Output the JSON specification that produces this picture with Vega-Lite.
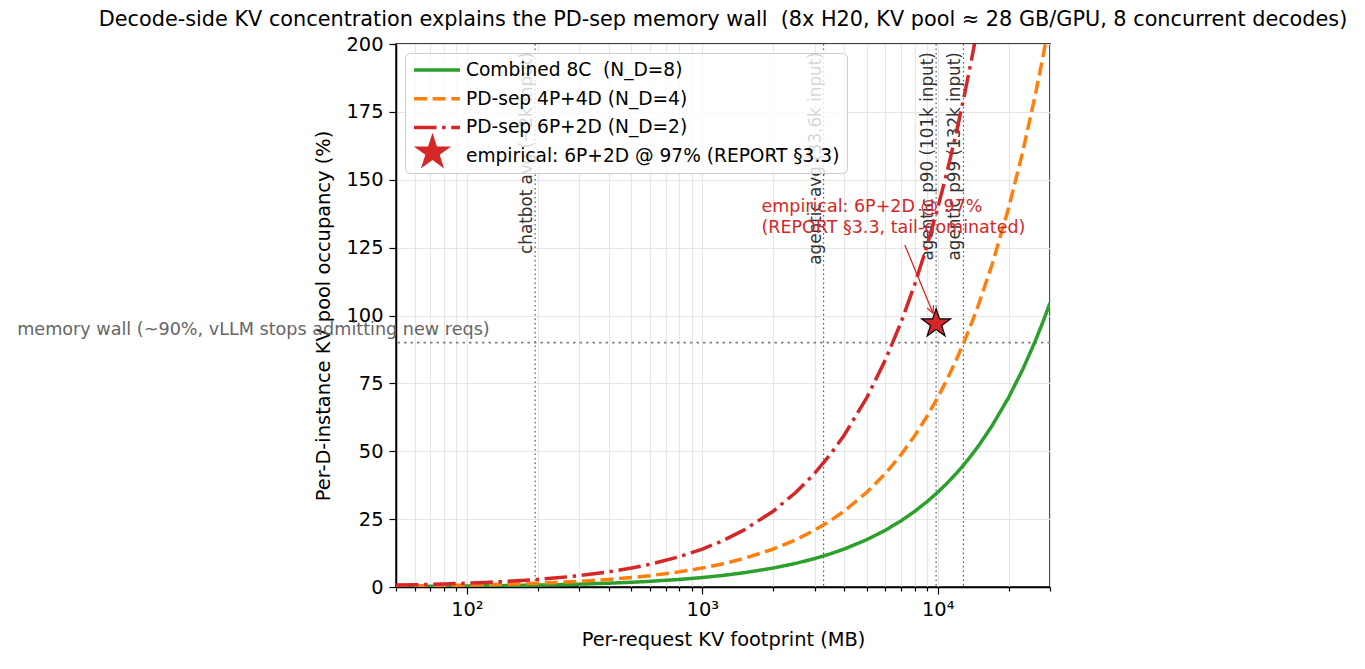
{
  "$schema": "https://vega.github.io/schema/vega-lite/v6.json",
  "width": 654,
  "height": 543,
  "autosize": {"type": "none"},
  "padding": {"left": 396, "top": 44, "right": 315, "bottom": 82},
  "background": "white",
  "title": {
    "text": "Decode-side KV concentration explains the PD-sep memory wall\u00a0 (8x H20, KV pool ≈ 28 GB/GPU, 8 concurrent decodes)",
    "anchor": "middle", "frame": "group", "fontSize": 20.8, "fontWeight": "normal",
    "color": "black", "offset": 3, "font": "DejaVu Sans"
  },
  "config": {
    "font": "DejaVu Sans",
    "view": {"stroke": "black", "strokeWidth": 1.5},
    "axis": {
      "labelFont": "DejaVu Sans", "titleFont": "DejaVu Sans",
      "labelFontSize": 19.4, "titleFontSize": 19.4, "titleFontWeight": "normal",
      "labelColor": "black", "titleColor": "black",
      "domainColor": "black", "domainWidth": 1.5, "tickColor": "black", "tickWidth": 1.2,
      "gridColor": "#e6e6e6", "gridWidth": 1.2, "labelPadding": 6
    }
  },
  "datasets": {
    "curves": [
      {"s":"c","x":50,"y":0.174},{"s":"c","x":60,"y":0.209},{"s":"c","x":70,"y":0.244},{"s":"c","x":80,"y":0.279},{"s":"c","x":100,"y":0.349},{"s":"c","x":120,"y":0.419},{"s":"c","x":150,"y":0.523},{"s":"c","x":200,"y":0.698},{"s":"c","x":250,"y":0.872},{"s":"c","x":300,"y":1.046},{"s":"c","x":400,"y":1.395},{"s":"c","x":500,"y":1.744},{"s":"c","x":600,"y":2.093},{"s":"c","x":800,"y":2.790},{"s":"c","x":1000,"y":3.488},{"s":"c","x":1200,"y":4.185},{"s":"c","x":1500,"y":5.232},{"s":"c","x":2000,"y":6.975},{"s":"c","x":2500,"y":8.719},{"s":"c","x":3000,"y":10.463},{"s":"c","x":3500,"y":12.207},{"s":"c","x":4000,"y":13.951},{"s":"c","x":5000,"y":17.439},{"s":"c","x":6000,"y":20.926},{"s":"c","x":7000,"y":24.414},{"s":"c","x":8000,"y":27.902},{"s":"c","x":9000,"y":31.390},{"s":"c","x":10000,"y":34.877},{"s":"c","x":11000,"y":38.365},{"s":"c","x":12000,"y":41.853},{"s":"c","x":13000,"y":45.340},{"s":"c","x":14000,"y":48.828},{"s":"c","x":15000,"y":52.316},{"s":"c","x":17000,"y":59.291},{"s":"c","x":20000,"y":69.754},{"s":"c","x":23000,"y":80.218},{"s":"c","x":26000,"y":90.681},{"s":"c","x":28000,"y":97.656},{"s":"c","x":30000,"y":104.63},
      {"s":"o","x":50,"y":0.349},{"s":"o","x":60,"y":0.419},{"s":"o","x":70,"y":0.488},{"s":"o","x":80,"y":0.558},{"s":"o","x":100,"y":0.698},{"s":"o","x":120,"y":0.837},{"s":"o","x":150,"y":1.046},{"s":"o","x":200,"y":1.395},{"s":"o","x":250,"y":1.744},{"s":"o","x":300,"y":2.093},{"s":"o","x":400,"y":2.790},{"s":"o","x":500,"y":3.488},{"s":"o","x":600,"y":4.185},{"s":"o","x":800,"y":5.580},{"s":"o","x":1000,"y":6.975},{"s":"o","x":1200,"y":8.371},{"s":"o","x":1500,"y":10.463},{"s":"o","x":2000,"y":13.951},{"s":"o","x":2500,"y":17.439},{"s":"o","x":3000,"y":20.926},{"s":"o","x":3500,"y":24.414},{"s":"o","x":4000,"y":27.902},{"s":"o","x":5000,"y":34.877},{"s":"o","x":6000,"y":41.853},{"s":"o","x":7000,"y":48.828},{"s":"o","x":8000,"y":55.804},{"s":"o","x":9000,"y":62.779},{"s":"o","x":10000,"y":69.754},{"s":"o","x":11000,"y":76.730},{"s":"o","x":12000,"y":83.705},{"s":"o","x":13000,"y":90.681},{"s":"o","x":14000,"y":97.656},{"s":"o","x":15000,"y":104.63},{"s":"o","x":17000,"y":118.58},{"s":"o","x":20000,"y":139.51},{"s":"o","x":23000,"y":160.44},{"s":"o","x":26000,"y":181.36},{"s":"o","x":28000,"y":195.31},{"s":"o","x":30000,"y":209.26},
      {"s":"r","x":50,"y":0.698},{"s":"r","x":60,"y":0.837},{"s":"r","x":70,"y":0.977},{"s":"r","x":80,"y":1.116},{"s":"r","x":100,"y":1.395},{"s":"r","x":120,"y":1.674},{"s":"r","x":150,"y":2.093},{"s":"r","x":200,"y":2.790},{"s":"r","x":250,"y":3.488},{"s":"r","x":300,"y":4.185},{"s":"r","x":400,"y":5.580},{"s":"r","x":500,"y":6.975},{"s":"r","x":600,"y":8.371},{"s":"r","x":800,"y":11.161},{"s":"r","x":1000,"y":13.951},{"s":"r","x":1200,"y":16.741},{"s":"r","x":1500,"y":20.926},{"s":"r","x":2000,"y":27.902},{"s":"r","x":2500,"y":34.877},{"s":"r","x":3000,"y":41.853},{"s":"r","x":3500,"y":48.828},{"s":"r","x":4000,"y":55.804},{"s":"r","x":5000,"y":69.754},{"s":"r","x":6000,"y":83.705},{"s":"r","x":7000,"y":97.656},{"s":"r","x":8000,"y":111.61},{"s":"r","x":9000,"y":125.56},{"s":"r","x":10000,"y":139.51},{"s":"r","x":11000,"y":153.46},{"s":"r","x":12000,"y":167.41},{"s":"r","x":13000,"y":181.36},{"s":"r","x":14000,"y":195.31},{"s":"r","x":15000,"y":209.26}
    ],
    "vlines": [
      {"x": 195, "label": "chatbot avg (~2k input)"},
      {"x": 3276, "label": "agentic avg (33.6k input)"},
      {"x": 9848, "label": "agentic p90 (101k input)"},
      {"x": 12870, "label": "agentic p99 (132k input)"}
    ]
  },
  "layer": [
    {
      "data": {"name": "vlines"},
      "mark": {"type": "rule", "color": "#555555", "strokeDash": [1.6, 2.9], "strokeWidth": 1.2},
      "encoding": {
        "x": {"field": "x", "type": "quantitative", "scale": {"type": "log", "domain": [50, 30000], "nice": false},
          "axis": {"title": "Per-request KV footprint (MB)", "values": [50,60,70,80,90,100,200,300,400,500,600,700,800,900,1000,2000,3000,4000,5000,6000,7000,8000,9000,10000,20000,30000], "labelExpr": "datum.value == 100 ? '10²' : datum.value == 1000 ? '10³' : datum.value == 10000 ? '10⁴' : ''", "labelOverlap": false, "labelFlush": false, "tickSize": {"condition": {"test": "datum.value == 100 || datum.value == 1000 || datum.value == 10000", "value": 7}, "value": 4}, "grid": true, "titlePadding": 12}}
      }
    },
    {
      "data": {"values": [{"y": 90}]},
      "mark": {"type": "rule", "color": "#808080", "strokeDash": [2.5, 4], "strokeWidth": 1.8},
      "encoding": {
        "y": {"field": "y", "type": "quantitative", "scale": {"domain": [0, 200], "nice": false},
          "axis": {"title": "Per-D-instance KV pool occupancy (%)", "values": [0,25,50,75,100,125,150,175,200], "tickSize": 7, "grid": true, "titlePadding": 12, "labelFlush": false}}
      }
    },
    {
      "data": {"name": "vlines"},
      "mark": {"type": "text", "angle": 270, "align": "right", "baseline": "bottom", "dy": 1, "fontSize": 16.8, "color": "#333333"},
      "encoding": {
        "x": {"field": "x", "type": "quantitative", "scale": {"type": "log", "domain": [50, 30000], "nice": false},
          "axis": {"title": "Per-request KV footprint (MB)", "values": [50,60,70,80,90,100,200,300,400,500,600,700,800,900,1000,2000,3000,4000,5000,6000,7000,8000,9000,10000,20000,30000], "labelExpr": "datum.value == 100 ? '10²' : datum.value == 1000 ? '10³' : datum.value == 10000 ? '10⁴' : ''", "labelOverlap": false, "labelFlush": false, "tickSize": {"condition": {"test": "datum.value == 100 || datum.value == 1000 || datum.value == 10000", "value": 7}, "value": 4}, "grid": true, "titlePadding": 12}},
        "y": {"datum": 197, "type": "quantitative", "scale": {"domain": [0, 200], "nice": false},
          "axis": {"title": "Per-D-instance KV pool occupancy (%)", "values": [0,25,50,75,100,125,150,175,200], "tickSize": 7, "grid": true, "titlePadding": 12, "labelFlush": false}},
        "text": {"field": "label"}
      }
    },
    {
      "data": {"values": [{"x": 1.23, "y": 92.8, "t": "memory wall (~90%, vLLM stops admitting new reqs)"}]},
      "mark": {"type": "text", "align": "left", "baseline": "alphabetic", "fontSize": 17.6, "color": "#666666"},
      "encoding": {
        "x": {"field": "x", "type": "quantitative", "scale": {"type": "log", "domain": [50, 30000], "nice": false},
          "axis": {"title": "Per-request KV footprint (MB)", "values": [50,60,70,80,90,100,200,300,400,500,600,700,800,900,1000,2000,3000,4000,5000,6000,7000,8000,9000,10000,20000,30000], "labelExpr": "datum.value == 100 ? '10²' : datum.value == 1000 ? '10³' : datum.value == 10000 ? '10⁴' : ''", "labelOverlap": false, "labelFlush": false, "tickSize": {"condition": {"test": "datum.value == 100 || datum.value == 1000 || datum.value == 10000", "value": 7}, "value": 4}, "grid": true, "titlePadding": 12}},
        "y": {"field": "y", "type": "quantitative", "scale": {"domain": [0, 200], "nice": false},
          "axis": {"title": "Per-D-instance KV pool occupancy (%)", "values": [0,25,50,75,100,125,150,175,200], "tickSize": 7, "grid": true, "titlePadding": 12, "labelFlush": false}},
        "text": {"field": "t"}
      }
    },
    {
      "data": {"name": "curves"},
      "mark": {"type": "line", "clip": true, "strokeWidth": 3.5},
      "encoding": {
        "x": {"field": "x", "type": "quantitative", "scale": {"type": "log", "domain": [50, 30000], "nice": false},
          "axis": {"title": "Per-request KV footprint (MB)", "values": [50,60,70,80,90,100,200,300,400,500,600,700,800,900,1000,2000,3000,4000,5000,6000,7000,8000,9000,10000,20000,30000], "labelExpr": "datum.value == 100 ? '10²' : datum.value == 1000 ? '10³' : datum.value == 10000 ? '10⁴' : ''", "labelOverlap": false, "labelFlush": false, "tickSize": {"condition": {"test": "datum.value == 100 || datum.value == 1000 || datum.value == 10000", "value": 7}, "value": 4}, "grid": true, "titlePadding": 12}},
        "y": {"field": "y", "type": "quantitative", "scale": {"domain": [0, 200], "nice": false},
          "axis": {"title": "Per-D-instance KV pool occupancy (%)", "values": [0,25,50,75,100,125,150,175,200], "tickSize": 7, "grid": true, "titlePadding": 12, "labelFlush": false}},
        "color": {
          "field": "s", "type": "nominal",
          "scale": {"domain": ["c", "o", "r", "e"], "range": ["#2ca02c", "#ff7f0e", "#d62728", "#d62728"]},
          "legend": {
            "orient": "none", "legendX": 9, "legendY": 9, "title": null,
            "labelExpr": "datum.value === 'c' ? 'Combined 8C\u00a0 (N_D=8)' : datum.value === 'o' ? 'PD-sep 4P+4D (N_D=4)' : datum.value === 'r' ? 'PD-sep 6P+2D (N_D=2)' : 'empirical: 6P+2D @ 97% (REPORT §3.3)'",
            "labelFont": "DejaVu Sans", "labelFontSize": 18.6, "labelColor": "black", "labelLimit": 600,
            "symbolType": "M-2.875,0H2.875", "symbolSize": 256, "symbolStrokeWidth": 3.5,
            "symbolOffset": 15, "labelOffset": 19,
            "rowPadding": 8.7, "padding": 7,
            "fillColor": "rgba(255,255,255,0.8)", "strokeColor": "#cccccc", "cornerRadius": 5,
            "encode": {
              "symbols": {
                "update": {
                  "fill": {"value": "transparent"},
                  "strokeDash": {"signal": "scale('strokeDash', datum.value)"},
                  "opacity": {"signal": "datum.value === 'e' ? 0 : 1"}
                }
              }
            }
          }
        },
        "strokeDash": {
          "field": "s", "type": "nominal",
          "scale": {"domain": ["c", "o", "r", "e"], "range": [[1, 0], [13, 5.6], [22.5, 5.6, 3.5, 5.6], [1, 0]]},
          "legend": null
        }
      }
    },
    {
      "data": {"values": [{"x": 7248, "y": 126.0, "x2": 9550, "y2": 100.9}]},
      "mark": {"type": "rule", "color": "#d62728", "strokeWidth": 1.3},
      "encoding": {
        "x": {"field": "x", "type": "quantitative", "scale": {"type": "log", "domain": [50, 30000], "nice": false},
          "axis": {"title": "Per-request KV footprint (MB)", "values": [50,60,70,80,90,100,200,300,400,500,600,700,800,900,1000,2000,3000,4000,5000,6000,7000,8000,9000,10000,20000,30000], "labelExpr": "datum.value == 100 ? '10²' : datum.value == 1000 ? '10³' : datum.value == 10000 ? '10⁴' : ''", "labelOverlap": false, "labelFlush": false, "tickSize": {"condition": {"test": "datum.value == 100 || datum.value == 1000 || datum.value == 10000", "value": 7}, "value": 4}, "grid": true, "titlePadding": 12}},
        "y": {"field": "y", "type": "quantitative", "scale": {"domain": [0, 200], "nice": false},
          "axis": {"title": "Per-D-instance KV pool occupancy (%)", "values": [0,25,50,75,100,125,150,175,200], "tickSize": 7, "grid": true, "titlePadding": 12, "labelFlush": false}},
        "x2": {"field": "x2"},
        "y2": {"field": "y2"}
      }
    },
    {
      "data": {"values": [{"x": 9550, "y": 100.9}]},
      "mark": {"type": "point", "shape": "M-1,-2L0,0L1,-2", "size": 49, "filled": false, "stroke": "#d62728", "strokeWidth": 1.3, "opacity": 1, "angle": 337.4},
      "encoding": {
        "x": {"field": "x", "type": "quantitative", "scale": {"type": "log", "domain": [50, 30000], "nice": false},
          "axis": {"title": "Per-request KV footprint (MB)", "values": [50,60,70,80,90,100,200,300,400,500,600,700,800,900,1000,2000,3000,4000,5000,6000,7000,8000,9000,10000,20000,30000], "labelExpr": "datum.value == 100 ? '10²' : datum.value == 1000 ? '10³' : datum.value == 10000 ? '10⁴' : ''", "labelOverlap": false, "labelFlush": false, "tickSize": {"condition": {"test": "datum.value == 100 || datum.value == 1000 || datum.value == 10000", "value": 7}, "value": 4}, "grid": true, "titlePadding": 12}},
        "y": {"field": "y", "type": "quantitative", "scale": {"domain": [0, 200], "nice": false},
          "axis": {"title": "Per-D-instance KV pool occupancy (%)", "values": [0,25,50,75,100,125,150,175,200], "tickSize": 7, "grid": true, "titlePadding": 12, "labelFlush": false}}
      }
    },
    {
      "data": {"values": [{"x": 9848, "y": 97, "s": "e"}]},
      "mark": {"type": "point", "size": 930, "filled": true, "fill": "#d62728", "stroke": "black", "strokeWidth": 1.2, "opacity": 1},
      "encoding": {
        "x": {"field": "x", "type": "quantitative", "scale": {"type": "log", "domain": [50, 30000], "nice": false},
          "axis": {"title": "Per-request KV footprint (MB)", "values": [50,60,70,80,90,100,200,300,400,500,600,700,800,900,1000,2000,3000,4000,5000,6000,7000,8000,9000,10000,20000,30000], "labelExpr": "datum.value == 100 ? '10²' : datum.value == 1000 ? '10³' : datum.value == 10000 ? '10⁴' : ''", "labelOverlap": false, "labelFlush": false, "tickSize": {"condition": {"test": "datum.value == 100 || datum.value == 1000 || datum.value == 10000", "value": 7}, "value": 4}, "grid": true, "titlePadding": 12}},
        "y": {"field": "y", "type": "quantitative", "scale": {"domain": [0, 200], "nice": false},
          "axis": {"title": "Per-D-instance KV pool occupancy (%)", "values": [0,25,50,75,100,125,150,175,200], "tickSize": 7, "grid": true, "titlePadding": 12, "labelFlush": false}},
        "shape": {
          "field": "s", "type": "nominal",
          "scale": {"domain": ["e"], "range": ["M0,-1L0.2245,-0.309L0.9511,-0.309L0.3633,0.118L0.5878,0.809L0,0.382L-0.5878,0.809L-0.3633,0.118L-0.9511,-0.309L-0.2245,-0.309Z"]},
          "legend": {
            "orient": "none", "legendX": 16, "legendY": 88, "title": null,
            "labelExpr": "''", "padding": 0, "labelOffset": 0,
            "symbolSize": 1550, "symbolFillColor": "#d62728", "symbolStrokeColor": "black",
            "symbolStrokeWidth": 1.2, "symbolOpacity": 1
          }
        }
      }
    },
    {
      "data": {"values": [{"x": 1784, "y": 138.2, "t": "empirical: 6P+2D @ 97%\n(REPORT §3.3, tail-dominated)"}]},
      "mark": {"type": "text", "align": "left", "baseline": "alphabetic", "lineBreak": "\n", "lineHeight": 21, "fontSize": 17.5, "color": "#d62728"},
      "encoding": {
        "x": {"field": "x", "type": "quantitative", "scale": {"type": "log", "domain": [50, 30000], "nice": false},
          "axis": {"title": "Per-request KV footprint (MB)", "values": [50,60,70,80,90,100,200,300,400,500,600,700,800,900,1000,2000,3000,4000,5000,6000,7000,8000,9000,10000,20000,30000], "labelExpr": "datum.value == 100 ? '10²' : datum.value == 1000 ? '10³' : datum.value == 10000 ? '10⁴' : ''", "labelOverlap": false, "labelFlush": false, "tickSize": {"condition": {"test": "datum.value == 100 || datum.value == 1000 || datum.value == 10000", "value": 7}, "value": 4}, "grid": true, "titlePadding": 12}},
        "y": {"field": "y", "type": "quantitative", "scale": {"domain": [0, 200], "nice": false},
          "axis": {"title": "Per-D-instance KV pool occupancy (%)", "values": [0,25,50,75,100,125,150,175,200], "tickSize": 7, "grid": true, "titlePadding": 12, "labelFlush": false}},
        "text": {"field": "t"}
      }
    }
  ]
}
